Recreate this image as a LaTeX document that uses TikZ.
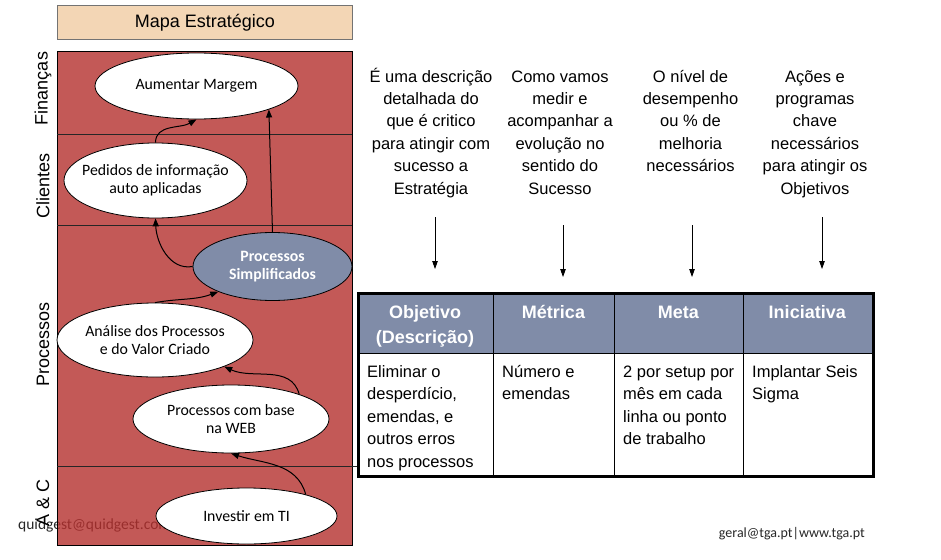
\documentclass[tikz,border=0pt]{standalone}
\usepackage{fontspec}
\setmainfont{Liberation Sans}
\newfontfamily\calibri{Carlito}
\usetikzlibrary{arrows.meta,shapes.geometric}
\definecolor{panelred}{RGB}{181,48,46}
\definecolor{slate}{RGB}{128,140,168}
\definecolor{tanbox}{RGB}{243,214,181}
\definecolor{footgray}{RGB}{40,40,40}
\begin{document}
\begin{tikzpicture}[x=1pt,y=-1pt,
  lane/.style={font=\fontsize{18}{20}\selectfont, rotate=90, inner sep=0pt},
  goal/.style={ellipse, draw=black, line width=0.8pt, fill=white, inner xsep=-20pt, inner ysep=-5pt, align=center, font=\calibri\fontsize{15.8}{18.5}\selectfont},
  arr/.style={-{Triangle[length=8pt,width=6pt]}, line width=1pt},
  desc/.style={font=\fontsize{16.5}{22.4}\selectfont, align=center, inner sep=0pt, anchor=north},
  downarr/.style={-{Triangle[length=8pt,width=5.5pt]}, line width=0.8pt},
  hcell/.style={draw=black, line width=1.3pt, fill=slate, anchor=north west, inner sep=0pt},
  bcell/.style={draw=black, line width=1.3pt, fill=white, anchor=north west, inner sep=0pt},
  htext/.style={font=\bfseries\fontsize{18}{25}\selectfont, text=white, align=center, inner sep=0pt, anchor=north},
  btext/.style={font=\fontsize{16.5}{22.6}\selectfont, align=left, inner sep=0pt, anchor=north west},
  divider/.style={line width=0.9pt, draw=black!85}
]
\useasboundingbox (0,0) rectangle (941,559);
\fill[white] (0,0) rectangle (941,559);

% title box
\node[draw=black!55, line width=0.8pt, fill=tanbox, minimum width=295pt, minimum height=34pt, inner sep=0pt, anchor=north west] (title) at (57,5) {};
\node[font=\fontsize{18}{20}\selectfont, inner sep=0pt] (titletext) at (title.center) {Mapa Estratégico};

% footers
\node[font=\calibri\fontsize{15.5}{18}\selectfont, anchor=base west, inner sep=0pt, text=footgray] (fq) at (18,529) {quidgest@quidgest.com |};
\node[font=\calibri\fontsize{14}{17}\selectfont, anchor=base east, inner sep=0pt, text=footgray] (fg) at (865,537) {geral@tga.pt|www.tga.pt};

% panel
\node[draw=black, line width=0.9pt, fill=panelred, fill opacity=0.8, minimum width=295pt, minimum height=494pt, anchor=north west, inner sep=0pt] (panel) at (57,51) {};
\coordinate (d1l) at (57,134); \coordinate (d1r) at (352,134);
\coordinate (d2l) at (57,225); \coordinate (d2r) at (352,225);
\coordinate (d3l) at (57,466); \coordinate (d3r) at (366,466);
\draw[divider] (d1l) -- (d1r);
\draw[divider] (d2l) -- (d2r);
\draw[divider] (d3l) -- (d3r);

% lane labels
\node[lane] (lfin) at (43,88.5) {Finanças};
\node[lane] (lcli) at (43,186) {Clientes};
\node[lane] (lpro) at (43,344.5) {Processos};
\node[lane] (lac) at (43,503) {A \& C};

% goals
\node[goal, minimum width=203pt, minimum height=66pt] (am) at (196.5,86) {Aumentar Margem};
\node[goal, minimum width=183pt, minimum height=75pt] (ped) at (155.5,180.5) {Pedidos de informação\\auto aplicadas};
\node[goal, fill=slate, text=white, font=\calibri\bfseries\fontsize{15.8}{18.5}\selectfont, minimum width=159pt, minimum height=68pt] (ps) at (272.5,266.5) {Processos\\Simplificados};
\node[goal, minimum width=196pt, minimum height=74pt] (an) at (155,340) {Análise dos Processos\\e do Valor Criado};
\node[goal, minimum width=196pt, minimum height=68pt] (web) at (231,419) {Processos com base\\na WEB};
\node[goal, minimum width=181pt, minimum height=56pt] (inv) at (246.5,516) {Investir em TI};

% goal arrows
\draw[arr] (ped.north) to[out=90,in=210] (am.south);
\draw[arr] (ps.north) -- (am.-18);
\draw[arr] (ps.west) to[out=190,in=-88] (ped.south);
\draw[arr] (an.north) to[out=10,in=200] (ps.205);
\draw[arr] (web.20) to[out=105,in=-25] (an.-21);
\draw[arr] (inv.20) to[out=105,in=-18] (web.south);

% descriptions
\node[desc] (t1) at (431,66.3) {\strut É uma descrição\\detalhada do\\que é critico\\para atingir com\\sucesso a\\Estratégia};
\node[desc] (t2) at (560,66.3) {\strut Como vamos\\medir e\\acompanhar a\\evolução no\\sentido do\\Sucesso};
\node[desc] (t3) at (690.5,66.3) {\strut O nível de\\desempenho\\ou \% de\\melhoria\\necessários};
\node[desc] (t4) at (815,66.3) {\strut Ações e\\programas\\chave\\necessários\\para atingir os\\Objetivos};

\coordinate (a1s) at (435,217); \coordinate (a1e) at (435,269);
\coordinate (a2s) at (563,225); \coordinate (a2e) at (563,277);
\coordinate (a3s) at (692,225); \coordinate (a3e) at (692,277);
\coordinate (a4s) at (822,217); \coordinate (a4e) at (822,269);
\draw[downarr] (a1s) -- (a1e);
\draw[downarr] (a2s) -- (a2e);
\draw[downarr] (a3s) -- (a3e);
\draw[downarr] (a4s) -- (a4e);

% table
\node[hcell, minimum width=136pt, minimum height=61pt] (h1) at (357,292) {};
\node[hcell, minimum width=121pt, minimum height=61pt] (h2) at (493,292) {};
\node[hcell, minimum width=128.5pt, minimum height=61pt] (h3) at (614,292) {};
\node[hcell, minimum width=129.5pt, minimum height=61pt] (h4) at (742.5,292) {};
\node[bcell, minimum width=136pt, minimum height=122pt] (b1) at (357,353) {};
\node[bcell, minimum width=121pt, minimum height=122pt] (b2) at (493,353) {};
\node[bcell, minimum width=128.5pt, minimum height=122pt] (b3) at (614,353) {};
\node[bcell, minimum width=129.5pt, minimum height=122pt] (b4) at (742.5,353) {};
\node[draw=black, line width=2.6pt, minimum width=515pt, minimum height=183pt, anchor=north west, inner sep=0pt] (tab) at (357,292) {};

\node[htext] (ht1) at (425,300.5) {\strut Objetivo\\(Descrição)};
\node[htext] (ht2) at (553.5,300.5) {\strut Métrica};
\node[htext] (ht3) at (678.25,300.5) {\strut Meta};
\node[htext] (ht4) at (807.25,300.5) {\strut Iniciativa};

\node[btext] (bt1) at (367,361) {\strut Eliminar o\\desperdício,\\emendas, e\\outros erros\\nos processos};
\node[btext] (bt2) at (502,361) {\strut Número e\\emendas};
\node[btext] (bt3) at (623,361) {\strut 2 por setup por\\mês em cada\\linha ou ponto\\de trabalho};
\node[btext] (bt4) at (752,361) {\strut Implantar Seis\\Sigma};
\end{tikzpicture}
\end{document}
